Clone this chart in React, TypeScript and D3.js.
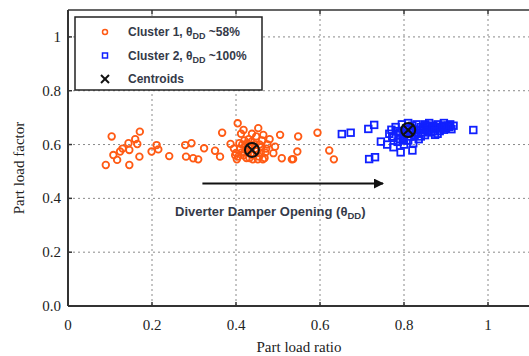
import { scaleLinear } from "d3";

const xTicks = [0, 0.2, 0.4, 0.6, 0.8, 1];
const xTickLabels = ["0", "0.2", "0.4", "0.6", "0.8", "1"];
const yTicks = [0, 0.2, 0.4, 0.6, 0.8, 1];
const yTickLabels = ["0.0", "0.2", "0.4", "0.6", "0.8", "1"];

// Cluster 1 (orange circles)
const cluster1X = [
  0.090, 0.104, 0.108, 0.117, 0.124, 0.130, 0.144, 0.146, 0.146, 0.160, 0.165, 0.171, 0.170,
  0.199, 0.211, 0.215, 0.241, 0.279, 0.281, 0.294, 0.298, 0.310, 0.324, 0.350, 0.362, 0.367,
  0.387, 0.404, 0.418, 0.400, 0.405, 0.410, 0.415, 0.420, 0.425, 0.430, 0.430, 0.435, 0.440,
  0.445, 0.448, 0.450, 0.455, 0.460, 0.462, 0.470, 0.475, 0.420, 0.412, 0.438, 0.428, 0.452,
  0.468, 0.453, 0.465, 0.489, 0.493, 0.505, 0.509, 0.533, 0.548, 0.546, 0.536, 0.594, 0.622,
  0.633, 0.480, 0.395, 0.402, 0.408, 0.418, 0.424, 0.432, 0.442, 0.456, 0.464, 0.472, 0.398,
  0.413, 0.427, 0.446, 0.459, 0.422, 0.436,
];
const cluster1Y = [
  0.524, 0.630, 0.561, 0.543, 0.574, 0.585, 0.605, 0.580, 0.524, 0.620, 0.602, 0.648, 0.555,
  0.574, 0.598, 0.582, 0.557, 0.598, 0.555, 0.605, 0.549, 0.545, 0.586, 0.577, 0.555, 0.644,
  0.602, 0.679, 0.654, 0.569, 0.555, 0.585, 0.600, 0.570, 0.550, 0.595, 0.620, 0.565, 0.545,
  0.600, 0.630, 0.575, 0.555, 0.590, 0.615, 0.570, 0.600, 0.615, 0.640, 0.640, 0.580, 0.545,
  0.550, 0.661, 0.636, 0.568, 0.592, 0.636, 0.549, 0.545, 0.630, 0.574, 0.546, 0.644, 0.578,
  0.545, 0.620, 0.585, 0.545, 0.605, 0.560, 0.585, 0.550, 0.560, 0.600, 0.545, 0.585, 0.560,
  0.570, 0.605, 0.585, 0.570, 0.595, 0.610,
];

// Cluster 2 (blue squares)
const cluster2X = [
  0.652, 0.673, 0.715, 0.729, 0.717, 0.731, 0.745, 0.792, 0.820, 0.822, 0.874, 0.913, 0.965,
  0.765, 0.770, 0.775, 0.780, 0.785, 0.790, 0.795, 0.800, 0.805, 0.810, 0.815, 0.820, 0.825,
  0.830, 0.835, 0.840, 0.845, 0.850, 0.855, 0.860, 0.865, 0.870, 0.875, 0.880, 0.885, 0.890,
  0.895, 0.900, 0.905, 0.910, 0.760, 0.775, 0.800, 0.790, 0.810, 0.830, 0.860, 0.850, 0.840,
  0.880, 0.895, 0.820, 0.772, 0.783, 0.797, 0.808, 0.818, 0.828, 0.838, 0.848, 0.858, 0.868,
  0.878, 0.888, 0.898, 0.908, 0.918, 0.787, 0.803, 0.813, 0.833, 0.853, 0.873, 0.893,
];
const cluster2Y = [
  0.639, 0.644, 0.658, 0.673, 0.546, 0.553, 0.611, 0.571, 0.578, 0.605, 0.636, 0.657, 0.654,
  0.640, 0.655, 0.625, 0.665, 0.610, 0.645, 0.675, 0.630, 0.660, 0.615, 0.645, 0.670, 0.635,
  0.655, 0.620, 0.665, 0.645, 0.675, 0.655, 0.665, 0.645, 0.670, 0.660, 0.675, 0.650, 0.665,
  0.680, 0.660, 0.670, 0.675, 0.600, 0.590, 0.600, 0.620, 0.680, 0.675, 0.680, 0.635, 0.630,
  0.640, 0.655, 0.650, 0.630, 0.650, 0.615, 0.640, 0.660, 0.645, 0.655, 0.660, 0.650, 0.660,
  0.665, 0.660, 0.670, 0.665, 0.670, 0.635, 0.645, 0.630, 0.640, 0.670, 0.650, 0.670,
];

const centroidsX = [0.438, 0.81];
const centroidsY = [0.58, 0.654];

const legendLabels = ["Cluster 1, θ", "Cluster 2, θ", "Centroids"];
const legendSuffix = [" ~58%", " ~100%", ""];

const ORANGE = "#ff5a14";
const BLUE = "#1020ff";
const TEXT = "#353a48";

export default function App() {
  const W = 529;
  const H = 356;
  const x = scaleLinear().domain([0, 1.1]).range([68, 530]);
  const y = scaleLinear().domain([0, 1.1]).range([306, 10]);
  const [x0, x1] = x.range();
  const [y0, y1] = y.range();

  return (
    <svg
      width={W}
      height={H}
      style={{ position: "absolute", left: 0, top: 0, background: "#fff" }}
    >
      <defs>
        <marker id="arrowHead" viewBox="0 0 10 10" refX="9" refY="5" markerWidth="5" markerHeight="5" orient="auto">
          <path d="M0,0 L10,5 L0,10 Z" fill="#111" />
        </marker>
      </defs>
      {/* grid */}
      {xTicks.slice(1).map((t) => (
        <line key={"gx" + t} x1={x(t)} x2={x(t)} y1={y0} y2={y1} stroke="#8a8a8a" strokeWidth={1} strokeDasharray="2,3" />
      ))}
      {yTicks.slice(1).map((t) => (
        <line key={"gy" + t} x1={x0} x2={x1} y1={y(t)} y2={y(t)} stroke="#8a8a8a" strokeWidth={1} strokeDasharray="2,3" />
      ))}
      {/* frame */}
      <line x1={x0} x2={x1} y1={y1} y2={y1} stroke="#333" strokeWidth={1.5} />
      <line x1={x0} x2={x0} y1={y0} y2={y1} stroke="#333" strokeWidth={2} />
      <line x1={x0} x2={x1} y1={y0} y2={y0} stroke="#333" strokeWidth={2} />
      {/* ticks */}
      {xTicks.map((t) => (
        <g key={"tx" + t}>
          <line x1={x(t)} x2={x(t)} y1={y0} y2={y0 - 4} stroke="#333" strokeWidth={1.5} />
          <line x1={x(t)} x2={x(t)} y1={y1} y2={y1 + 4} stroke="#333" strokeWidth={1.5} />
        </g>
      ))}
      {yTicks.map((t) => (
        <line key={"ty" + t} x1={x0} x2={x0 + 4} y1={y(t)} y2={y(t)} stroke="#333" strokeWidth={1.5} />
      ))}
      {/* tick labels */}
      {xTicks.map((t, i) => (
        <text key={"lx" + t} x={x(t)} y={330} textAnchor="middle" fontFamily="Liberation Serif, serif" fontSize={15} fill="#222">
          {xTickLabels[i]}
        </text>
      ))}
      {yTicks.map((t, i) => (
        <text key={"ly" + t} x={61} y={y(t) + 5} textAnchor="end" fontFamily="Liberation Serif, serif" fontSize={15} fill="#222">
          {yTickLabels[i]}
        </text>
      ))}
      {/* axis titles */}
      <text x={299} y={352} textAnchor="middle" fontFamily="Liberation Serif, serif" fontSize={15} fill="#222">
        Part load ratio
      </text>
      <text transform={`translate(24,${168}) rotate(-90)`} textAnchor="middle" fontFamily="Liberation Serif, serif" fontSize={15} fill="#222">
        Part load factor
      </text>
      {/* cluster 1 */}
      {cluster1X.map((v, i) => (
        <circle key={"c1" + i} cx={x(v)} cy={y(cluster1Y[i])} r={3.3} fill="none" stroke={ORANGE} strokeWidth={1.8} />
      ))}
      {/* cluster 2 */}
      {cluster2X.map((v, i) => (
        <rect key={"c2" + i} x={x(v) - 3.3} y={y(cluster2Y[i]) - 3.3} width={6.6} height={6.6} fill="none" stroke={BLUE} strokeWidth={1.8} />
      ))}
      {/* centroids */}
      {centroidsX.map((v, i) => {
        const cx = x(v);
        const cy = y(centroidsY[i]);
        return (
          <g key={"ce" + i} stroke="#111" strokeWidth={2} fill="none">
            <circle cx={cx} cy={cy} r={7} />
            <line x1={cx - 4.8} x2={cx + 4.8} y1={cy - 4.8} y2={cy + 4.8} />
            <line x1={cx - 4.8} x2={cx + 4.8} y1={cy + 4.8} y2={cy - 4.8} />
          </g>
        );
      })}
      {/* arrow + annotation */}
      <line x1={x(0.32)} x2={x(0.75)} y1={y(0.455)} y2={y(0.455)} stroke="#111" strokeWidth={2} markerEnd="url(#arrowHead)" />
      <text x={175} y={216} fontFamily="Liberation Sans, Arial, sans-serif" fontSize={13} fontWeight="bold" fill={TEXT}>
        Diverter Damper Opening (θ
        <tspan fontSize={9.5} dy={3}>DD</tspan>
        <tspan dy={-3}>)</tspan>
      </text>
      {/* legend */}
      <rect x={75} y={17} width={187} height={73} fill="#fff" stroke="#222" strokeWidth={1.5} />
      {legendLabels.map((lab, i) => {
        const ly = 32 + i * 23.5;
        return (
          <g key={"lg" + i}>
            {i === 0 && <circle cx={105} cy={ly} r={2.5} fill="none" stroke={ORANGE} strokeWidth={1.5} />}
            {i === 1 && <rect x={102.5} y={ly - 2.5} width={5} height={5} fill="none" stroke={BLUE} strokeWidth={1.5} />}
            {i === 2 && (
              <g stroke="#111" strokeWidth={2}>
                <line x1={101} x2={109} y1={ly - 4} y2={ly + 4} />
                <line x1={101} x2={109} y1={ly + 4} y2={ly - 4} />
              </g>
            )}
            <text x={128} y={ly + 4} fontFamily="Liberation Sans, Arial, sans-serif" fontSize={12} fontWeight="bold" fill={TEXT}>
              {lab}
              {i < 2 && (
                <>
                  <tspan fontSize={9} dy={3}>DD</tspan>
                  <tspan dy={-3}>{legendSuffix[i]}</tspan>
                </>
              )}
            </text>
          </g>
        );
      })}
    </svg>
  );
}
